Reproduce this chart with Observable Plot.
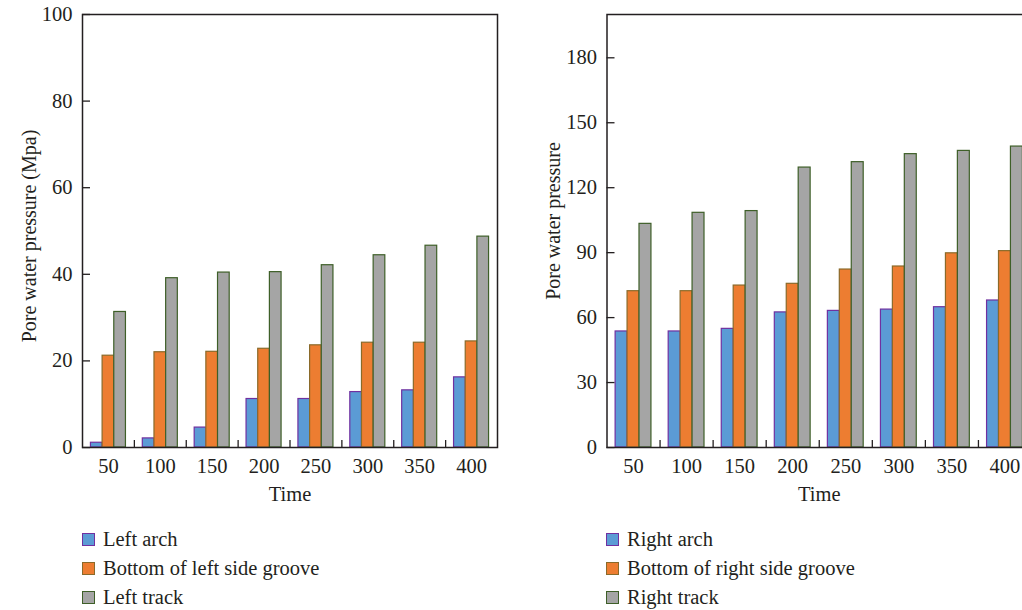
<!DOCTYPE html>
<html>
<head>
<meta charset="utf-8">
<script src="https://cdn.jsdelivr.net/npm/d3@7"></script>
<script src="https://cdn.jsdelivr.net/npm/@observablehq/plot@0.6"></script>
<style>
  html, body { margin: 0; padding: 0; background: #fff; }
  #wrap { position: relative; width: 1022px; height: 610px; overflow: hidden; font-family: "Liberation Serif", serif; color: #231f20; }
  .panel { position: absolute; top: 0; }
  .panel svg { max-width: none !important; }
  .legend { position: absolute; font-size: 20.5px; line-height: 29px; white-space: nowrap; }
  .legend .row { display: flex; align-items: center; height: 29px; }
  .legend .sw { width: 11px; height: 11px; border: 1.3px solid; margin-right: 8px; }
</style>
</head>
<body>
<div id="wrap">
  <div id="left" class="panel" style="left:0px; width:507px"></div>
  <div id="right" class="panel" style="left:524px; width:517px"></div>
  <div id="legL" class="legend" style="left:82px; top:525px"></div>
  <div id="legR" class="legend" style="left:606px; top:525px"></div>
</div>
<script>
// ---- data ----
const times = [50, 100, 150, 200, 250, 300, 350, 400];

const leftNames = ["Left arch", "Bottom of left side groove", "Left track"];
const leftArch   = [1.1, 2.1, 4.6, 11.2, 11.2, 12.8, 13.2, 16.2];
const leftGroove = [21.2, 22.0, 22.1, 22.8, 23.6, 24.2, 24.2, 24.5];
const leftTrack  = [31.3, 39.1, 40.4, 40.5, 42.1, 44.4, 46.6, 48.7];
const leftTicks  = [0, 20, 40, 60, 80, 100];

const rightNames = ["Right arch", "Bottom of right side groove", "Right track"];
const rightArch   = [53.6, 53.6, 54.8, 62.4, 63.1, 63.7, 64.8, 67.9];
const rightGroove = [72.2, 72.2, 74.8, 75.6, 82.2, 83.6, 89.7, 90.7];
const rightTrack  = [103.3, 108.4, 109.2, 129.3, 131.8, 135.5, 137.0, 139.0];
const rightTicks  = [0, 30, 60, 90, 120, 150, 180];

const fills   = ["#5b9bd5", "#ed7d31", "#a5a5a5"];
const strokes = ["#7030a0", "#8a6a2a", "#3e5f28"];
const ink = "#231f20";

function panel({series, yMax, yTicks, yLabel, width, marginLeft, titleDy}) {
  const n = times.length;
  const w = 0.225, off = (1 - 3 * w) / 2;
  const bars = series.map((vals, j) =>
    Plot.rectY(vals.map((v, i) => ({i, v})), {
      x1: d => d.i + off + j * w,
      x2: d => d.i + off + (j + 1) * w,
      y1: 0,
      y2: "v",
      fill: fills[j],
      stroke: strokes[j],
      strokeWidth: 1.2
    })
  );
  const bounds = d3.range(1, n);
  const centers = d3.range(n).map(i => i + 0.5);
  return Plot.plot({
    width, height: 512,
    marginLeft, marginRight: 10, marginTop: 14, marginBottom: 65,
    style: {fontFamily: "Liberation Serif", fontSize: "20.5px", color: ink, background: "transparent", overflow: "visible", maxWidth: "none"},
    x: {domain: [0, n]},
    y: {domain: [0, yMax]},
    marks: [
      ...bars,
      Plot.frame({stroke: ink, strokeWidth: 1.5}),
      Plot.axisY(yTicks, {tickSize: -8, tickPadding: 18, label: null, stroke: ink, fill: ink, strokeWidth: 1.3}),
      Plot.axisX(bounds, {tickSize: -7, tickFormat: () => "", label: null, stroke: ink, strokeWidth: 1.3}),
      Plot.axisX(centers, {tickSize: 0, tickPadding: 11, tickFormat: d => String(times[Math.floor(d)]), label: null, fill: ink}),
      Plot.text(["Time"], {frameAnchor: "bottom", dy: 53, fill: ink, fontSize: 20.5}),
      Plot.text([yLabel], {frameAnchor: "left", textAnchor: "middle", rotate: -90, dx: -53, dy: titleDy, fill: ink, fontSize: 20})
    ]
  });
}

document.getElementById("left").append(panel({
  series: [leftArch, leftGroove, leftTrack], yMax: 100, yTicks: leftTicks,
  yLabel: "Pore water pressure (Mpa)", width: 507, marginLeft: 82, titleDy: 5
}));
document.getElementById("right").append(panel({
  series: [rightArch, rightGroove, rightTrack], yMax: 200, yTicks: rightTicks,
  yLabel: "Pore water pressure", width: 517, marginLeft: 82.5, titleDy: -10
}));

function legend(el, names) {
  names.forEach((name, j) => {
    const row = document.createElement("div");
    row.className = "row";
    const sw = document.createElement("span");
    sw.className = "sw";
    sw.style.background = fills[j];
    sw.style.borderColor = strokes[j];
    const t = document.createElement("span");
    t.textContent = name;
    row.append(sw, t);
    el.append(row);
  });
}
legend(document.getElementById("legL"), leftNames);
legend(document.getElementById("legR"), rightNames);
</script>
</body>
</html>
